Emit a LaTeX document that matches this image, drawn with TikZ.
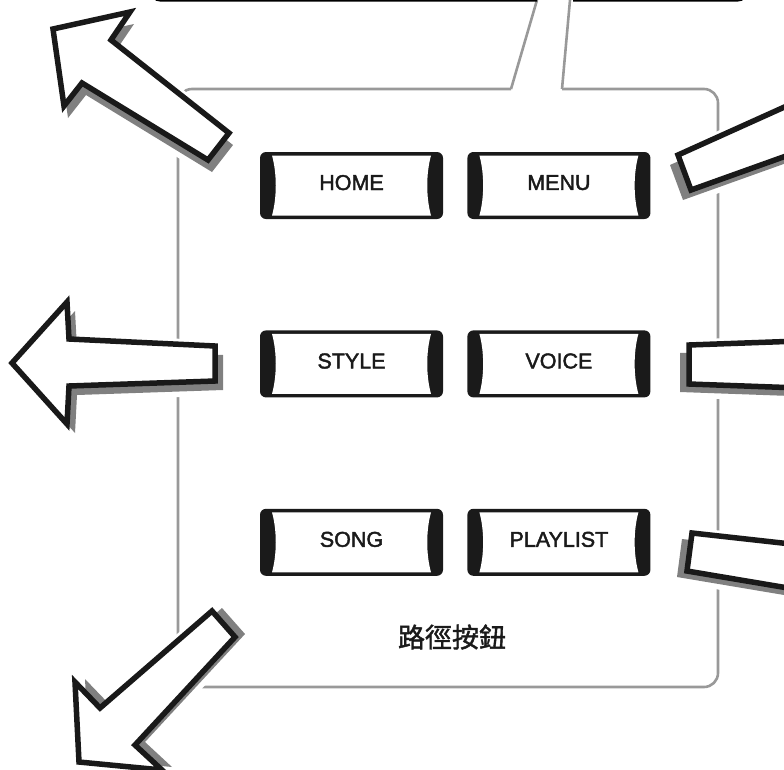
\documentclass[tikz,border=0pt]{standalone}
\usepackage{fontspec}
\usetikzlibrary{positioning}
\newfontfamily\btnfont[FakeBold=2]{Liberation Sans}
\newfontfamily\cjk[FakeBold=1.5]{Noto Sans CJK TC}
\definecolor{btnblack}{HTML}{1A1A1A}
\definecolor{framegray}{HTML}{999999}
\definecolor{shadowgray}{HTML}{808080}

% block arrow with offset shadow: #1 shadow shift, #2 outline points
\newcommand{\blockarrow}[2]{%
  \draw[halo, shift={#1}] #2 -- cycle;
  \draw[halo] #2 -- cycle;
  \fill[arrowshadow, shift={#1}] #2 -- cycle;
  \filldraw[arrowbody] #2 -- cycle;
}

\begin{document}
\begin{tikzpicture}[x=1pt, y=-1pt, node distance=111pt and 24pt,
  button/.style = {minimum width=183pt, minimum height=67pt, inner sep=0pt,
    fill=btnblack, rounded corners=6pt, text=btnblack, text depth=6pt,
    font=\btnfont\fontsize{21.5pt}{21.5pt}\selectfont,
    path picture={
      \fill[white, sharp corners]
        ([shift={(12pt,-3.5pt)}]path picture bounding box.north west)
        -- ([shift={(-12pt,-3.5pt)}]path picture bounding box.north east)
        .. controls +(-5pt,-18pt) and +(-5pt,18pt) ..
        ([shift={(-12pt,3.5pt)}]path picture bounding box.south east)
        -- ([shift={(12pt,3.5pt)}]path picture bounding box.south west)
        .. controls +(5pt,18pt) and +(5pt,-18pt) ..
        ([shift={(12pt,-3.5pt)}]path picture bounding box.north west) -- cycle;
    }},
  frame/.style = {draw=framegray, line width=2.6pt},
  halo/.style = {white, line width=11pt, line join=round},
  arrowshadow/.style = {fill=shadowgray},
  arrowbody/.style = {fill=white, draw=black!90, line width=5.5pt, line join=miter}]

\useasboundingbox (0,0) rectangle (784,769);
\clip (0,0) rectangle (784,769);

% grey frame with its pointer
\draw[frame, rounded corners=14pt] (511,89) -- (178,89) -- (178,687) -- (718,687) -- (718,89) -- (562,89);
\draw[frame] (511,89) -- (537,0);
\draw[frame] (562,89) -- (570,0);
% box above, cut by the page edge
\draw[line width=3pt, rounded corners=8pt] (152,-30) -- (152,0) -- (537,0);
\draw[line width=3pt, rounded corners=8pt] (573,0) -- (746,0) -- (746,-30);

% buttons
\node[button] (home) at (351.5,185.5) {HOME};
\node[button] (menu) [right=of home] {MENU};
\node[button] (style) [below=of home] {STYLE};
\node[button] (voice) [right=of style] {VOICE};
\node[button] (song) [below=of style] {SONG};
\node[button] (playlist) [right=of song] {PLAYLIST};
\node[font=\cjk\fontsize{27pt}{27pt}\selectfont, text=btnblack] (title) at (452,637) {路徑按鈕};

% arrows
\blockarrow{(4,12)}{(53,29) -- (130,12) -- (111,40) -- (229,133) -- (208,160) -- (82,83) -- (64,106)}
\blockarrow{(8,9)}{(12,363) -- (67,302) -- (69,339) -- (215,346) -- (215,381) -- (69,386) -- (67,424)}
\blockarrow{(10,-3)}{(212,611) -- (235,637) -- (135,745) -- (162,770) -- (79,762) -- (75,682) -- (100,708)}
\blockarrow{(-8,10)}{(678,155) -- (800,100) -- (800,151) -- (691,190)}
\blockarrow{(-9,8)}{(689,345) -- (800,341) -- (800,388) -- (689,384)}
\blockarrow{(-10,6)}{(692,533) -- (800,545) -- (800,590) -- (687,571)}
\end{tikzpicture}
\end{document}
